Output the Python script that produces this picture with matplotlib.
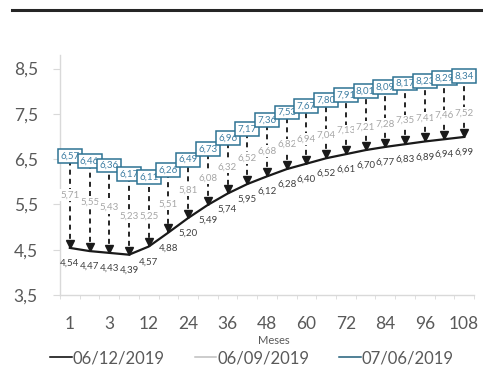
import numpy as np
import matplotlib
matplotlib.use("Agg")
import matplotlib.pyplot as plt
from matplotlib.lines import Line2D
from matplotlib.transforms import ScaledTranslation

plt.rcParams['font.family'] = ['Lato', 'DejaVu Sans']

# prazos (meses) e taxas por data de referência
meses = [1, 2, 3, 6, 12, 18, 24, 30, 36, 42, 48, 54, 60, 66, 72, 78, 84, 90, 96, 102, 108]
taxa_dez = [4.54, 4.47, 4.43, 4.39, 4.57, 4.88, 5.20, 5.49, 5.74, 5.95, 6.12,
            6.28, 6.40, 6.52, 6.61, 6.70, 6.77, 6.83, 6.89, 6.94, 6.99]
taxa_set = [5.71, 5.55, 5.43, 5.23, 5.25, 5.51, 5.81, 6.08, 6.32, 6.52, 6.68,
            6.82, 6.94, 7.04, 7.13, 7.21, 7.28, 7.35, 7.41, 7.46, 7.52]
taxa_jun = [6.57, 6.46, 6.36, 6.17, 6.11, 6.26, 6.49, 6.73, 6.96, 7.17, 7.36,
            7.53, 7.67, 7.80, 7.91, 8.01, 8.09, 8.17, 8.23, 8.29, 8.34]
datas = ['06/12/2019', '06/09/2019', '07/06/2019']

fmt = lambda v: f"{v:.2f}".replace('.', ',')

cor_eixo = '#D9D9D9'
cor_texto = '#595959'
cor_jun = '#2E7393'
cor_jun_txt = '#3F7FA3'
cor_set = '#A6A6A6'

fig = plt.figure(figsize=(4.83, 3.76), dpi=100)
ax = fig.add_axes([60/483, 1-295/376, 414/483, 240/376])

x = np.arange(len(meses))

# linhas tracejadas de jun -> dez com seta
ax.vlines(x, taxa_dez, taxa_jun, colors='black', linewidth=1.2,
          linestyles=(0, (3, 2.5)), zorder=2)
seta = ax.transData + ScaledTranslation(0, 3/72, fig.dpi_scale_trans)
ax.plot(x, taxa_dez, 'v', ms=6, color='#1a1a1a', transform=seta, zorder=3)

ax.plot(x, taxa_dez, color='#1a1a1a', linewidth=1.6, zorder=4)
# séries sem linha, só rótulos
ax.plot(x, taxa_set, color='none')
ax.plot(x, taxa_jun, color='none')

for xi, v in zip(x, taxa_dez):
    ax.annotate(fmt(v), (xi, v), xytext=(0, -11), textcoords='offset points',
                ha='center', va='center', fontsize=7, color='#404040', zorder=5)
for xi, v in zip(x, taxa_set):
    ax.text(xi, v, fmt(v), ha='center', va='center', fontsize=7, color=cor_set,
            zorder=5, bbox=dict(boxstyle='square,pad=0.15', fc='white', ec='none'))
for xi, v in zip(x, taxa_jun):
    ax.text(xi, v, fmt(v), ha='center', va='center', fontsize=7, color=cor_jun_txt,
            zorder=6, bbox=dict(boxstyle='square,pad=0.25', fc='white', ec=cor_jun, lw=1.1))

ax.set_xlim(-0.5, len(meses) - 0.5)
ax.set_ylim(3.5, 8.8)
ax.set_yticks([3.5, 4.5, 5.5, 6.5, 7.5, 8.5])
ax.set_yticklabels(['3,5', '4,5', '5,5', '6,5', '7,5', '8,5'])
ax.set_xticks(x[::2])
ax.set_xticklabels([str(m) for m in meses[::2]])
ax.set_xticks(np.arange(len(meses) + 1) - 0.5, minor=True)

for lado in ['top', 'right']:
    ax.spines[lado].set_visible(False)
for lado in ['left', 'bottom']:
    ax.spines[lado].set_color(cor_eixo)
    ax.spines[lado].set_linewidth(1)
ax.tick_params(axis='y', length=5, color=cor_eixo, labelsize=12.5, labelcolor=cor_texto, pad=11)
ax.tick_params(axis='x', which='major', length=0, labelsize=12.5, labelcolor=cor_texto, pad=15)
ax.tick_params(axis='x', which='minor', length=3, color=cor_eixo)

fig.text(274/483, 1-340/376, 'Meses', ha='center', va='center', fontsize=8, color=cor_texto)

handles = [Line2D([], [], color='black', lw=1.1),
           Line2D([], [], color='#BFBFBF', lw=1.1),
           Line2D([], [], color='#215E79', lw=1.1)]
fig.legend(handles, datas, loc='center', bbox_to_anchor=(252/483, 1-358/376), ncol=3,
           frameon=False, fontsize=12, labelcolor=cor_texto, handlelength=1.3,
           handletextpad=0.05, columnspacing=1.8)

# linha de topo
fig.add_artist(Line2D([12/483, 1], [1-10/376, 1-10/376], color='#262626', lw=2.2))

fig.savefig('out.png', dpi=100)
